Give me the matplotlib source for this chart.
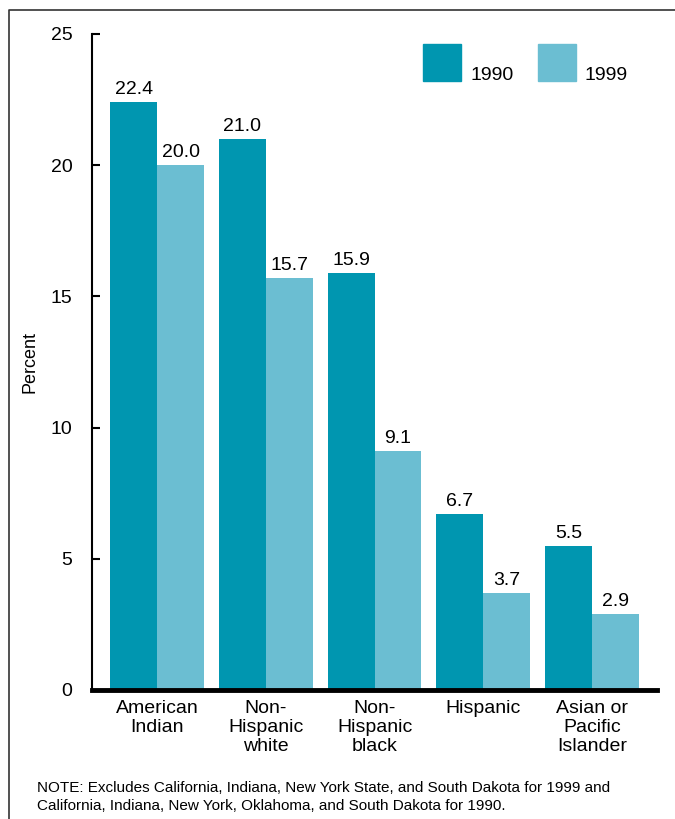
import numpy as np
import matplotlib.pyplot as plt
from matplotlib.lines import Line2D
from matplotlib.patches import Rectangle

plt.rcParams['font.family'] = ['Liberation Sans', 'DejaVu Sans']

groups = ["American\nIndian", "Non-\nHispanic\nwhite", "Non-\nHispanic\nblack", "Hispanic", "Asian or\nPacific\nIslander"]
vals_1990 = [22.4, 21.0, 15.9, 6.7, 5.5]
vals_1999 = [20.0, 15.7, 9.1, 3.7, 2.9]
years = ["1990", "1999"]
yticks = [0, 5, 10, 15, 20, 25]

c1990 = "#0096b0"
c1999 = "#6bbed2"
fs = 14

fig = plt.figure(figsize=(6.75, 8.19), dpi=100)
ax = fig.add_axes([92/675, 129/819, 565/675, 656/819])

x = np.arange(len(groups))
w = 0.43
b1 = ax.bar(x - w/2, vals_1990, w, color=c1990)
b2 = ax.bar(x + w/2, vals_1999, w, color=c1999)

for bars, vals in [(b1, vals_1990), (b2, vals_1999)]:
  for bar, v in zip(bars, vals):
    ax.text(bar.get_x() + bar.get_width()/2, v + 0.15, f"{v:.1f}", ha='center', va='bottom', fontsize=fs)

ax.set_xlim(-0.6, 4.6)
ax.set_ylim(0, 25)
ax.set_yticks(yticks)
ax.tick_params(axis='y', direction='in', length=6, width=1.5, labelsize=fs, pad=14)
ax.set_xticks(x)
ax.set_xticklabels(groups, fontsize=fs, linespacing=1.15)
ax.tick_params(axis='x', length=0, pad=7)
ax.spines['top'].set_visible(False)
ax.spines['right'].set_visible(False)
ax.spines['left'].set_linewidth(1.5)
ax.spines['bottom'].set_linewidth(3.5)
ax.set_ylabel("Percent", fontsize=13, labelpad=9)

# legend
for xs, col, lab in [(423, c1990, years[0]), (538, c1999, years[1])]:
  fig.patches.append(Rectangle((xs/675, 1 - 81/819), 38/675, 37/819, color=col, transform=fig.transFigure))
  fig.text((xs + 47)/675, 1 - 80/819, lab, fontsize=fs, va='baseline')

fig.text(37/675, 1 - 797/819, "NOTE: Excludes California, Indiana, New York State, and South Dakota for 1999 and\nCalifornia, Indiana, New York, Oklahoma, and South Dakota for 1990.",
         fontsize=11, va='center', linespacing=1.3)

# frame
fig.lines.append(Line2D([9/675, 9/675, 1], [0, 1 - 10/819, 1 - 10/819], transform=fig.transFigure, color='#333333', lw=1.2))

fig.savefig("out.png", dpi=100)
